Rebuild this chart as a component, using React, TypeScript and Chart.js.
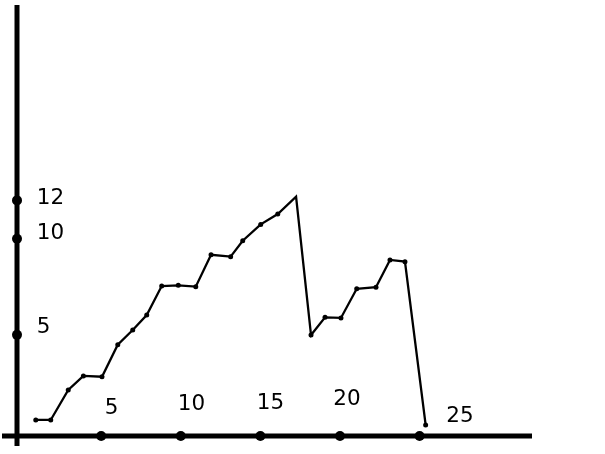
import { useEffect, useRef } from "react";
import { Chart, registerables } from "chart.js";

Chart.register(...registerables);

// Data (x along the horizontal axis, y along the vertical axis)
const xValues = [
  0.89, 1.83, 2.93, 3.88, 5.05, 6.04, 6.98, 7.86, 8.8, 9.84, 10.94, 11.9, 13.13,
  13.89, 15.02, 16.09, 17.24, 18.18, 19.06, 20.06, 21.05, 22.26, 23.14, 24.08, 25.38,
];
const yValues = [
  0.57, 0.57, 2.13, 2.86, 2.82, 4.49, 5.25, 6.03, 7.54, 7.58, 7.51, 9.17, 9.07,
  9.9, 10.75, 11.29, 12.19, 4.99, 5.91, 5.88, 7.4, 7.48, 8.9, 8.81, 0.31,
];

// Tick values and labels
const xTickValues = [5, 10, 15, 20, 25];
const xTickLabels = ["5", "10", "15", "20", "25"];
const yTickValues = [5, 10, 12];
const yTickLabels = ["5", "10", "12"];

// Hand-placed label nudges (style only)
const xLabelNudge = [
  [10.3, -27.5],
  [10.7, -31.3],
  [10, -33],
  [7, -37],
  [40.4, -20],
];
const yLabelNudge = [
  [19.7, -7],
  [19.7, -5.8],
  [19.7, -2.4],
];

const FONT = "21.5px 'DejaVu Sans', Verdana, sans-serif";

const axesPlugin = {
  id: "handAxes",
  beforeDatasetsDraw(chart: any) {
    const { ctx, chartArea, scales } = chart;
    const xs = scales.x;
    const ys = scales.y;
    ctx.save();
    ctx.strokeStyle = "#000";
    ctx.fillStyle = "#000";
    ctx.lineWidth = 5;
    ctx.lineCap = "butt";
    // vertical axis
    ctx.beginPath();
    ctx.moveTo(chartArea.left, chartArea.top);
    ctx.lineTo(chartArea.left, chartArea.bottom + 10);
    ctx.stroke();
    // horizontal axis
    ctx.beginPath();
    ctx.moveTo(chartArea.left - 15, chartArea.bottom);
    ctx.lineTo(chartArea.right, chartArea.bottom);
    ctx.stroke();

    ctx.font = FONT;
    ctx.textBaseline = "middle";
    // x tick dots + labels
    xTickValues.forEach((v, i) => {
      const px = xs.getPixelForValue(v);
      ctx.beginPath();
      ctx.arc(px, chartArea.bottom, 5, 0, Math.PI * 2);
      ctx.fill();
      ctx.textAlign = "center";
      ctx.fillText(xTickLabels[i], px + xLabelNudge[i][0], chartArea.bottom + xLabelNudge[i][1]);
    });
    // y tick dots + labels
    yTickValues.forEach((v, i) => {
      const py = ys.getPixelForValue(v);
      ctx.beginPath();
      ctx.arc(chartArea.left, py, 5, 0, Math.PI * 2);
      ctx.fill();
      ctx.textAlign = "left";
      ctx.fillText(yTickLabels[i], chartArea.left + yLabelNudge[i][0], py + yLabelNudge[i][1]);
    });
    ctx.restore();
  },
};

export default function App() {
  const ref = useRef<HTMLCanvasElement | null>(null);

  useEffect(() => {
    if (!ref.current) return;
    const points = xValues.map((x, i) => ({ x, y: yValues[i] }));
    const radii = yValues.map((_, i) => (i === 16 ? 0 : 2.5));
    const chart = new Chart(ref.current, {
      type: "line",
      data: {
        datasets: [
          {
            data: points,
            borderColor: "#000",
            backgroundColor: "#000",
            borderWidth: 2.3,
            pointRadius: radii,
            pointBorderWidth: 0,
            pointBackgroundColor: "#000",
            tension: 0,
            clip: false as any,
          },
        ],
      },
      options: {
        animation: false,
        responsive: true,
        maintainAspectRatio: false,
        layout: { padding: { left: 17, top: 5, right: 73, bottom: 18 }, autoPadding: false },
        plugins: { legend: { display: false }, tooltip: { enabled: false } },
        scales: {
          x: { type: "linear", min: -0.289, max: 32.06, display: false },
          y: { type: "linear", min: -0.265, max: 22.17, display: false },
        },
      },
      plugins: [axesPlugin],
    });
    return () => chart.destroy();
  }, []);

  return (
    <div style={{ position: "fixed", left: 0, top: 0, width: 605, height: 454, background: "#fff" }}>
      <canvas ref={ref} />
    </div>
  );
}
